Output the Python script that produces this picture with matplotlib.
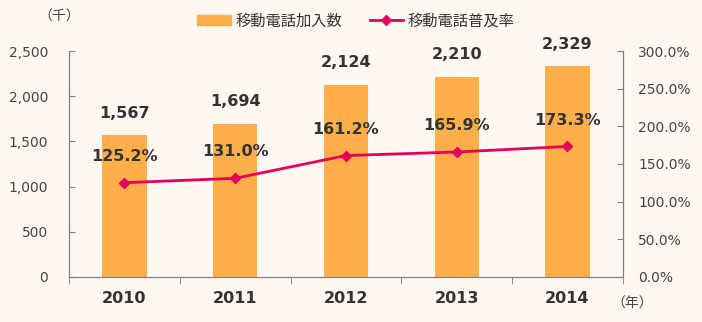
import numpy as np
import matplotlib.pyplot as plt
from matplotlib.patches import Patch
from matplotlib.lines import Line2D

plt.rcParams['font.family'] = ['Noto Sans CJK JP', 'DejaVu Sans']

years = ['2010', '2011', '2012', '2013', '2014']
subscribers = [1567, 1694, 2124, 2210, 2329]   # thousands
penetration = [125.2, 131.0, 161.2, 165.9, 173.3]  # percent

bg = '#fef7f2'
bar_color = '#ffae4a'
line_color = '#e5005a'
text_color = '#333333'
axis_color = '#808080'

fig = plt.figure(figsize=(7.02, 3.22), dpi=100, facecolor=bg)
ax = fig.add_axes([0.0983, 0.1398, 0.789, 0.7018], facecolor=bg)
ax2 = ax.twinx()

x = np.arange(len(years))
ax.bar(x, subscribers, width=0.4, color=bar_color, zorder=1)
ax2.plot(x, penetration, color=line_color, lw=2, marker='D', ms=5, zorder=3)

ax.set_xlim(-0.5, len(years) - 0.5)
ax.set_ylim(0, 2500)
ax2.set_ylim(0, 300)

ax.set_yticks(np.arange(0, 2501, 500))
ax.set_yticklabels(['{:,}'.format(v) for v in range(0, 2501, 500)])
ax2.set_yticks(np.arange(0, 301, 50))
ax2.set_yticklabels(['{:.1f}%'.format(v) for v in range(0, 301, 50)])

ax.set_xticks(x)
ax.set_xticklabels(years, fontsize=11.5, fontweight='bold', color=text_color,
                   family='DejaVu Sans')
ax.set_xticks(np.arange(-0.5, len(years)), minor=True)
ax.tick_params(axis='x', which='major', length=0, pad=10)
ax.tick_params(axis='x', which='minor', length=5, direction='out', color=axis_color)
ax.tick_params(axis='y', direction='in', length=4, color=axis_color,
               labelsize=10, labelcolor='#444444', pad=15)
ax2.tick_params(axis='y', direction='in', length=4, color=axis_color,
                labelsize=10, labelcolor='#444444', pad=11)
for lab in ax.get_yticklabels() + ax2.get_yticklabels():
    lab.set_family('DejaVu Sans')

for a in (ax, ax2):
    a.spines['top'].set_visible(False)
    for s in ('left', 'right', 'bottom'):
        a.spines[s].set_color(axis_color)

ax.set_zorder(ax2.get_zorder() - 1)
ax2.patch.set_visible(False)

# value labels
for xi, v in zip(x, subscribers):
    ax.annotate('{:,}'.format(v), (xi, v), xytext=(0, 16), textcoords='offset points',
                ha='center', va='center', fontsize=11.5, fontweight='bold',
                color=text_color, family='DejaVu Sans')
for xi, v in zip(x, penetration):
    ax2.annotate('{:.1f}%'.format(v), (xi, v), xytext=(0, 19), textcoords='offset points',
                 ha='center', va='center', fontsize=11.5, fontweight='bold',
                 color=text_color, family='DejaVu Sans')

fig.text(0.085, 0.947, '（千）', ha='center', va='center', fontsize=10, color='#444444')
fig.text(0.900, 0.058, '（年）', ha='center', va='center', fontsize=10, color='#444444')

handles = [Patch(color=bar_color),
           Line2D([0], [0], color=line_color, lw=2, marker='D', ms=5)]
fig.legend(handles, ['移動電話加入数', '移動電話普及率'], loc='center',
           bbox_to_anchor=(0.507, 0.935), ncol=2, frameon=False, fontsize=11,
           handlelength=2.2, handletextpad=0.3, columnspacing=1.8)
for t in fig.legends[0].get_texts():
    t.set_color(text_color)

fig.savefig('out.png', dpi=100, facecolor=bg)
